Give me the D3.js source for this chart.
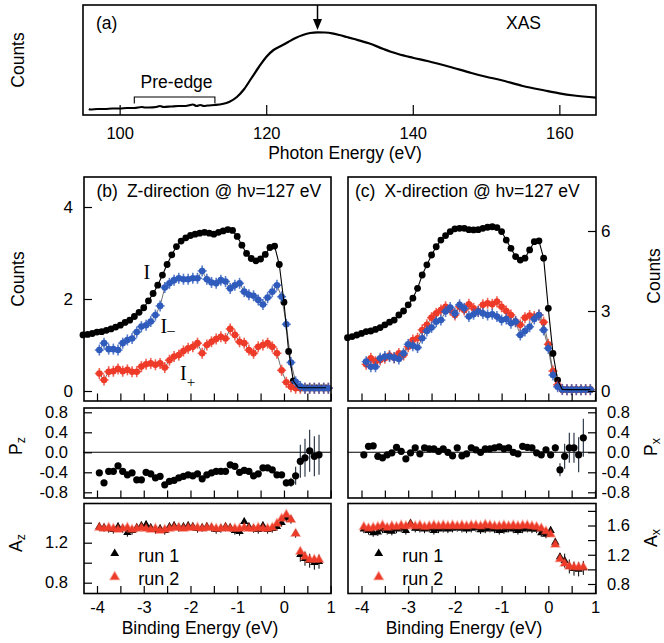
<!DOCTYPE html>
<html><head><meta charset="utf-8">
<script src="https://cdn.jsdelivr.net/npm/d3@7"></script>
<style>body{margin:0;background:#fff}svg{display:block}</style>
</head><body><svg id="c" width="664" height="643"></svg>
<script>
// ---------------- DATA ----------------
// (a) XAS spectrum
const xasEnergy = [95.8,96,97,98,99,100,101,102,103,103.5,104,105,105.5,106,107,108,109,110,110.5,111,111.5,112,113,114,115,116,117,118,119,120,121,122,123,124,125,126,127,128,129,130,131,132,134,136,137,138,140,142,145,148,150,152,155,158,160,162,165];
const xasCounts = [0.06,0.055,0.06,0.06,0.065,0.065,0.07,0.07,0.08,0.075,0.075,0.08,0.09,0.08,0.085,0.09,0.09,0.105,0.09,0.10,0.09,0.095,0.10,0.11,0.133,0.18,0.26,0.37,0.48,0.58,0.65,0.69,0.73,0.77,0.80,0.82,0.827,0.825,0.817,0.80,0.78,0.76,0.717,0.66,0.633,0.61,0.573,0.54,0.483,0.42,0.383,0.35,0.29,0.245,0.217,0.195,0.173];
const xasTicks = [100,120,140,160];
const xasTickLabels = ["100","120","140","160"];
const peakEnergy = 127;
const preEdge = [102,113];

// binding-energy grids
const E_I = [-4.3,-4.2,-4.1,-4.0,-3.9,-3.8,-3.7,-3.6,-3.5,-3.4,-3.3,-3.2,-3.1,-3.0,-2.9,-2.8,-2.7,-2.6,-2.5,-2.4,-2.3,-2.2,-2.1,-2.0,-1.9,-1.8,-1.7,-1.6,-1.5,-1.4,-1.3,-1.2,-1.1,-1.0,-0.9,-0.8,-0.7,-0.6,-0.5,-0.4,-0.3,-0.2,-0.1,0.0,0.1,0.2,0.3,0.4,0.5,0.6,0.7,0.8,0.9];
const E_pm_b = [-3.95,-3.85,-3.75,-3.65,-3.55,-3.45,-3.35,-3.25,-3.15,-3.05,-2.95,-2.85,-2.75,-2.65,-2.55,-2.45,-2.35,-2.25,-2.15,-2.05,-1.95,-1.85,-1.75,-1.65,-1.55,-1.45,-1.35,-1.25,-1.15,-1.05,-0.95,-0.85,-0.75,-0.65,-0.55,-0.45,-0.35,-0.25,-0.15,-0.05,0.05,0.15,0.25,0.35,0.45,0.55,0.65,0.75,0.85,0.95];
const E_pm_c = [-3.9,-3.8,-3.7,-3.6,-3.5,-3.4,-3.3,-3.2,-3.1,-3.0,-2.9,-2.8,-2.7,-2.6,-2.5,-2.4,-2.3,-2.2,-2.1,-2.0,-1.9,-1.8,-1.7,-1.6,-1.5,-1.4,-1.3,-1.2,-1.1,-1.0,-0.9,-0.8,-0.7,-0.6,-0.5,-0.4,-0.3,-0.2,-0.1,0.0,0.1,0.2,0.3,0.4,0.5,0.6,0.7,0.8,0.9];
const E_PA = [-3.95,-3.85,-3.75,-3.65,-3.55,-3.45,-3.35,-3.25,-3.15,-3.05,-2.95,-2.85,-2.75,-2.65,-2.55,-2.45,-2.35,-2.25,-2.15,-2.05,-1.95,-1.85,-1.75,-1.65,-1.55,-1.45,-1.35,-1.25,-1.15,-1.05,-0.95,-0.85,-0.75,-0.65,-0.55,-0.45,-0.35,-0.25,-0.15,-0.05,0.05,0.15,0.25,0.35,0.45,0.55,0.65,0.75];

// (b) Z-direction counts
const Ib = [1.22,1.23,1.25,1.28,1.29,1.32,1.35,1.39,1.43,1.49,1.54,1.62,1.71,1.81,1.96,2.12,2.30,2.52,2.75,2.96,3.14,3.26,3.33,3.38,3.41,3.43,3.45,3.43,3.41,3.45,3.48,3.51,3.49,3.36,3.17,2.99,2.88,2.83,2.87,2.97,3.12,3.15,2.75,1.93,0.86,0.22,0.08,0.07,0.07,0.07,0.07,0.07,0.07];
const Iminus_b = [0.89,1.04,0.91,0.91,0.89,1.04,1.11,1.14,1.28,1.40,1.43,1.51,1.65,1.85,2.25,2.34,2.41,2.45,2.43,2.43,2.45,2.45,2.61,2.43,2.36,2.34,2.41,2.38,2.23,2.30,2.34,2.16,2.09,2.07,1.98,1.88,2.03,2.16,2.30,2.05,1.45,0.62,0.20,0.10,0.06,0.06,0.06,0.06,0.06,0.06];
const Iplus_b = [0.38,0.24,0.42,0.43,0.48,0.43,0.46,0.42,0.42,0.53,0.58,0.60,0.57,0.60,0.51,0.67,0.75,0.78,0.87,0.93,0.96,1.04,0.82,1.00,1.07,1.13,1.18,1.14,1.35,1.22,1.07,1.04,0.89,0.82,0.96,1.00,1.04,0.96,0.82,0.45,0.19,0.09,0.06,0.06,0.06,0.06,0.06,0.06,0.06,0.06];
// (c) X-direction counts
const Ic = [2.0,2.04,2.1,2.16,2.23,2.25,2.31,2.38,2.48,2.58,2.66,2.85,3.0,3.23,3.48,3.85,4.35,4.73,5.1,5.41,5.66,5.83,5.98,6.08,6.1,6.1,6.05,6.04,6.05,6.1,6.14,6.16,6.13,5.98,5.66,5.35,5.04,4.91,4.98,5.29,5.6,5.63,4.98,3.1,1.41,0.41,0.06,0.05,0.05,0.05,0.05,0.05,0.05];
const Iplus_c = [1.0,1.23,1.1,1.16,1.23,1.33,1.25,1.41,1.35,1.66,1.91,1.98,2.29,2.48,2.75,2.91,3.04,3.16,3.04,2.85,3.16,3.04,3.25,3.1,3.0,3.23,3.29,3.25,3.35,3.16,3.0,2.85,2.6,2.48,2.75,2.83,2.79,2.85,2.58,1.75,0.75,0.23,0.06,0.05,0.05,0.05,0.05,0.05,0.05];
const Iminus_c = [1.1,0.91,0.91,1.23,1.29,1.29,1.25,1.2,1.41,1.75,1.7,1.63,1.98,2.25,2.38,2.6,2.66,2.98,3.13,2.91,3.23,3.1,2.79,2.88,2.98,2.91,2.85,2.88,2.79,2.66,2.7,2.54,2.6,2.1,2.25,2.41,2.7,2.85,2.29,1.6,0.6,0.16,0.06,0.05,0.05,0.05,0.05,0.05,0.05];

// polarization
const Pz = [-0.41,-0.61,-0.38,-0.38,-0.27,-0.38,-0.45,-0.41,-0.55,-0.55,-0.40,-0.43,-0.51,-0.48,-0.65,-0.58,-0.56,-0.51,-0.48,-0.45,-0.47,-0.43,-0.53,-0.45,-0.41,-0.38,-0.38,-0.38,-0.25,-0.28,-0.40,-0.36,-0.38,-0.47,-0.43,-0.31,-0.31,-0.35,-0.45,-0.45,-0.61,-0.60,-0.47,-0.18,-0.11,0.03,-0.08,-0.05];
const Pz_err = [0.05,0.06,0.05,0.05,0.05,0.05,0.05,0.05,0.05,0.05,0.05,0.05,0.05,0.05,0.05,0.05,0.05,0.05,0.05,0.05,0.05,0.05,0.05,0.05,0.05,0.05,0.05,0.05,0.05,0.05,0.05,0.05,0.05,0.05,0.05,0.05,0.05,0.05,0.05,0.05,0.07,0.09,0.18,0.33,0.38,0.42,0.40,0.40];
const Px = [-0.05,0.12,0.13,-0.08,-0.11,-0.05,-0.01,0.10,0.02,-0.13,-0.01,0.09,-0.03,0.09,0.07,0.07,0.02,0.07,0.00,-0.07,0.09,-0.07,-0.03,0.09,0.05,0.00,0.07,0.07,0.09,0.11,0.07,0.09,0.00,-0.03,0.12,0.10,0.09,-0.01,-0.05,0.05,-0.05,0.09,-0.35,-0.08,0.09,0.09,-0.05,0.29];
const Px_err = [0.05,0.05,0.05,0.05,0.05,0.05,0.05,0.05,0.05,0.05,0.05,0.05,0.05,0.05,0.05,0.05,0.05,0.05,0.05,0.05,0.05,0.05,0.05,0.05,0.05,0.05,0.05,0.05,0.05,0.05,0.05,0.05,0.05,0.05,0.05,0.05,0.05,0.05,0.05,0.05,0.05,0.07,0.13,0.25,0.30,0.30,0.35,0.38];

// asymmetry
const Az_run1 = [1.36,1.35,1.34,1.33,1.36,1.34,1.30,1.32,1.35,1.37,1.38,1.35,1.33,1.34,1.32,1.36,1.37,1.35,1.36,1.37,1.36,1.34,1.35,1.36,1.35,1.33,1.34,1.36,1.35,1.32,1.31,1.41,1.36,1.34,1.33,1.37,1.33,1.34,1.36,1.40,1.45,1.43,1.29,1.08,1.04,1.02,1.00,1.01];
const Az_run2 = [1.35,1.34,1.35,1.34,1.33,1.34,1.35,1.33,1.34,1.35,1.34,1.33,1.34,1.32,1.33,1.34,1.35,1.35,1.34,1.35,1.35,1.35,1.34,1.35,1.35,1.34,1.34,1.35,1.34,1.34,1.34,1.35,1.34,1.34,1.35,1.34,1.34,1.35,1.39,1.44,1.48,1.43,1.29,1.11,1.06,1.03,1.03,1.03];
const Ax_run1 = [1.55,1.53,1.50,1.51,1.55,1.53,1.52,1.55,1.56,1.53,1.63,1.56,1.56,1.55,1.56,1.53,1.55,1.56,1.55,1.56,1.57,1.56,1.55,1.56,1.57,1.54,1.55,1.56,1.55,1.53,1.54,1.56,1.55,1.53,1.55,1.56,1.55,1.55,1.50,1.48,1.53,1.37,1.17,1.12,1.04,1.01,1.00,1.02];
const Ax_run2 = [1.58,1.56,1.57,1.58,1.60,1.57,1.59,1.58,1.60,1.59,1.61,1.59,1.60,1.58,1.59,1.60,1.59,1.60,1.59,1.60,1.59,1.60,1.59,1.60,1.60,1.59,1.61,1.60,1.59,1.59,1.60,1.59,1.60,1.59,1.60,1.60,1.59,1.58,1.56,1.52,1.48,1.34,1.14,1.08,1.04,1.03,1.03,1.03];

// ticks
const beTicks = [-4,-3.5,-3,-2.5,-2,-1.5,-1,-0.5,0,0.5,1];
const beTickLabels = {"-4":"-4","-3":"-3","-2":"-2","-1":"-1","0":"0","1":"1"};
const countsTicksB = [0,2,4], countsTicksC = [0,3,6];
const pTicks = [-0.8,-0.4,0,0.4,0.8];
const pTickLabels = ["-0.8","-0.4","0.0","0.4","0.8"];
const aTicksB = [0.8,1.0,1.2,1.4];
const aTickLabelsB = ["0.8","","1.2",""];
const aTicksC = [0.8,1.0,1.2,1.4,1.6,1.8];
const aTickLabelsC = ["0.8","","1.2","","1.6",""];
const legendLabels = ["run 1","run 2"];

// ---------------- DRAW ----------------
const FONT = '"Liberation Sans", Arial, Helvetica, sans-serif';
const SERIF = '"Liberation Serif", "Times New Roman", serif';
const BLUE = "#2f5cbc", RED = "#ee3a28";
const svg = d3.select("#c");

function styleAxis(g, fs){
  g.select(".domain").remove();
  g.selectAll(".tick line").attr("stroke","#000").attr("stroke-width",1.2);
  g.selectAll("text").attr("font-size",fs).attr("font-family",FONT).attr("fill","#000");
}
function box(x0,x1,y0,y1){
  svg.append("rect").attr("x",x0).attr("y",y0).attr("width",x1-x0).attr("height",y1-y0)
    .attr("fill","none").attr("stroke","#000").attr("stroke-width",1.6);
}
function text(x,y,s,fs,anchor,rot){
  const t = svg.append("text").attr("font-family",FONT).attr("font-size",fs).attr("fill","#000")
    .attr("text-anchor",anchor||"start");
  if(rot){ t.attr("transform",`translate(${x},${y}) rotate(-90)`); } else { t.attr("x",x).attr("y",y); }
  t.text(s); return t;
}
function subLabel(x,y,main,sub){
  const t = svg.append("text").attr("font-family",FONT).attr("font-size",17.5).attr("fill","#000")
    .attr("text-anchor","middle").attr("transform",`translate(${x},${y}) rotate(-90)`);
  t.append("tspan").text(main);
  t.append("tspan").attr("font-size",12.5).attr("dy",3).text(sub);
}

// ===== Panel (a) =====
const xA = d3.scaleLinear().domain([95,165]).range([83,596]);
const yA = d3.scaleLinear().domain([0,1.1]).range([115,5]);
svg.append("path").datum(xasEnergy.map((e,i)=>[e,xasCounts[i]]))
  .attr("d", d3.line().x(d=>xA(d[0])).y(d=>yA(d[1])).curve(d3.curveMonotoneX))
  .attr("fill","none").attr("stroke","#000").attr("stroke-width",2.2);
box(83,596,5,115);
const gA = svg.append("g").attr("transform","translate(0,115)")
  .call(d3.axisBottom(xA).tickValues(xasTicks).tickSize(-10).tickPadding(11.8)
    .tickFormat((d,i)=>xasTickLabels[i]));
styleAxis(gA,16.5);
// arrow
const ax = xA(peakEnergy);
svg.append("line").attr("x1",ax).attr("x2",ax).attr("y1",5).attr("y2",22).attr("stroke","#000").attr("stroke-width",1.5);
svg.append("path").attr("d",`M${ax-4.5},19 L${ax+4.5},19 L${ax},30 Z`).attr("fill","#000");
// pre-edge bracket
svg.append("path").attr("d",`M${xA(preEdge[0])},103.5 V97 H${xA(preEdge[1])} V103.5`)
  .attr("fill","none").attr("stroke","#000").attr("stroke-width",1.1);
text((xA(preEdge[0])+xA(preEdge[1]))/2+2,88,"Pre-edge",17.5,"middle");
text(96,29,"(a)",17.5);
text(506,29,"XAS",17.5);
text(24,60,"Counts",17.5,"middle",true);
text(345,158.8,"Photon Energy (eV)",17.5,"middle");

// ===== shared scales for lower panels =====
const xB = d3.scaleLinear().domain([-4,1]).range([97,330.7]);
const xC = d3.scaleLinear().domain([-4,1]).range([361.5,595]);
const yTopB = d3.scaleLinear().domain([0,4]).range([391,207]);
const yTopC = d3.scaleLinear().domain([0,6]).range([391,231]);
const yP = d3.scaleLinear().domain([-0.8,0.8]).range([492.3,412.3]);
const yAB = d3.scaleLinear().domain([0.8,1.4]).range([582.7,522.7]);
const yAC = d3.scaleLinear().domain([0.8,1.6]).range([584,525.5]);

const BX = [84,331], CX = [348,596];
const TOP = [177,401], PY = [408,498], AY = [503.5,593.5];

function countsPanel(x, y, E_black, black, E_pm, minus, plus){
  const ln = d3.line().x(d=>x(d[0])).y(d=>y(d[1]));
  [plus, minus].forEach(arr=>{
    svg.append("path").datum(E_pm.map((e,i)=>[e,arr[i]])).attr("d",ln)
      .attr("fill","none").attr("stroke","#333").attr("stroke-width",0.7);
  });
  svg.append("g").selectAll("circle").data(E_black.map((e,i)=>[e,black[i]])).join("circle")
    .attr("cx",d=>x(d[0])).attr("cy",d=>y(d[1])).attr("r",3.4).attr("fill","#000");
  [[plus,RED],[minus,BLUE]].forEach(([arr,col])=>{
    const g = svg.append("g").selectAll("g").data(E_pm.map((e,i)=>[e,arr[i]])).join("g")
      .attr("transform",d=>`translate(${x(d[0])},${y(d[1])})`);
    g.append("line").attr("y1",-5.5).attr("y2",5.5).attr("stroke",col).attr("stroke-width",1.6).attr("opacity",0.8);
    g.append("line").attr("x1",-4.5).attr("x2",4.5).attr("stroke",col).attr("stroke-width",1.6).attr("opacity",0.8);
    g.append("circle").attr("r",3.3).attr("fill",col);
  });
  svg.append("path").datum(E_black.map((e,i)=>[e,black[i]])).attr("d",ln)
    .attr("fill","none").attr("stroke","#000").attr("stroke-width",1.1);
}

function pPanel(x, vals, errs){
  svg.append("line").attr("x1",x.range()[0]-14).attr("x2",x.range()[1]).attr("y1",yP(0)).attr("y2",yP(0))
    .attr("stroke","#000").attr("stroke-width",1.1);
  const d = E_PA.map((e,i)=>[e,vals[i],errs[i]]);
  svg.append("g").selectAll("line").data(d).join("line")
    .attr("x1",d=>x(d[0])).attr("x2",d=>x(d[0])).attr("y1",d=>yP(d[1]-d[2])).attr("y2",d=>yP(d[1]+d[2]))
    .attr("stroke","#1d2a3a").attr("stroke-width",1.1);
  svg.append("g").selectAll("circle").data(d).join("circle")
    .attr("cx",d=>x(d[0])).attr("cy",d=>yP(d[1])).attr("r",3.6).attr("fill","#000");
}

const tri = d3.symbol().type(d3.symbolTriangle);
function aPanel(x, y, r1, r2){
  const d1 = E_PA.map((e,i)=>[e,r1[i]]), d2 = E_PA.map((e,i)=>[e,r2[i]]);
  svg.append("g").selectAll("line").data(d1).join("line")
    .attr("x1",d=>x(d[0])).attr("x2",d=>x(d[0]))
    .attr("y1",(d,i)=>y(d[1])-(i>42?7:4)).attr("y2",(d,i)=>y(d[1])+(i>42?7:4))
    .attr("stroke","#000").attr("stroke-width",1);
  svg.append("g").selectAll("path").data(d1).join("path")
    .attr("transform",d=>`translate(${x(d[0])},${y(d[1])})`).attr("d",tri.size(30)()).attr("fill","#000");
  svg.append("g").selectAll("path").data(d2).join("path")
    .attr("transform",d=>`translate(${x(d[0])},${y(d[1])})`).attr("d",tri.size(30)())
    .attr("fill",RED).attr("stroke","rgba(240,70,50,0.45)").attr("stroke-width",1.6);
}
function legend(x0){
  svg.append("path").attr("transform",`translate(${x0},553.5)`).attr("d",tri.size(34)()).attr("fill","#000");
  svg.append("path").attr("transform",`translate(${x0},577)`).attr("d",tri.size(34)())
    .attr("fill",RED).attr("stroke","rgba(240,70,50,0.45)").attr("stroke-width",1.6);
  text(x0+23.5,561.5,legendLabels[0],18);
  text(x0+23.5,585,legendLabels[1],18);
}

function xAxis(x, yb, labels){
  const g = svg.append("g").attr("transform",`translate(0,${yb})`)
    .call(d3.axisBottom(x).tickValues(beTicks).tickSize(-7.5).tickPadding(8)
      .tickFormat(d=> labels ? (beTickLabels[String(d)]||"") : ""));
  styleAxis(g,16.5);
}

// ===== Panel (b) =====
countsPanel(xB, yTopB, E_I, Ib, E_pm_b, Iminus_b, Iplus_b);
box(BX[0],BX[1],TOP[0],TOP[1]);
xAxis(xB, TOP[1], false);
styleAxis(svg.append("g").attr("transform",`translate(${BX[0]},0)`)
  .call(d3.axisLeft(yTopB).tickValues(countsTicksB).tickSize(-8).tickPadding(11).tickFormat(d3.format("d"))),17);

pPanel(xB, Pz, Pz_err);
box(BX[0],BX[1],PY[0],PY[1]);
xAxis(xB, PY[1], false);
styleAxis(svg.append("g").attr("transform",`translate(${BX[0]},0)`)
  .call(d3.axisLeft(yP).tickValues(pTicks).tickSize(-8).tickPadding(16).tickFormat((d,i)=>pTickLabels[i])),16.5);

aPanel(xB, yAB, Az_run1, Az_run2);
legend(114.7);
box(BX[0],BX[1],AY[0],AY[1]);
xAxis(xB, AY[1], true);
styleAxis(svg.append("g").attr("transform",`translate(${BX[0]},0)`)
  .call(d3.axisLeft(yAB).tickValues(aTicksB).tickSize(-8).tickPadding(16).tickFormat((d,i)=>aTickLabelsB[i])),16.5);

// ===== Panel (c) =====
countsPanel(xC, yTopC, E_I, Ic, E_pm_c, Iminus_c, Iplus_c);
box(CX[0],CX[1],TOP[0],TOP[1]);
xAxis(xC, TOP[1], false);
styleAxis(svg.append("g").attr("transform",`translate(${CX[1]},0)`)
  .call(d3.axisRight(yTopC).tickValues(countsTicksC).tickSize(-8).tickPadding(5).tickFormat(d3.format("d"))),17);

pPanel(xC, Px, Px_err);
box(CX[0],CX[1],PY[0],PY[1]);
xAxis(xC, PY[1], false);
const gPc = svg.append("g").attr("transform",`translate(${CX[1]},0)`)
  .call(d3.axisRight(yP).tickValues(pTicks).tickSize(-8).tickPadding(5).tickFormat((d,i)=>pTickLabels[i]));
styleAxis(gPc,16.5); gPc.selectAll("text").attr("text-anchor","end").attr("x",34);

aPanel(xC, yAC, Ax_run1, Ax_run2);
legend(378.7);
box(CX[0],CX[1],AY[0],AY[1]);
xAxis(xC, AY[1], true);
const gAc = svg.append("g").attr("transform",`translate(${CX[1]},0)`)
  .call(d3.axisRight(yAC).tickValues(aTicksC).tickSize(-8).tickPadding(5).tickFormat((d,i)=>aTickLabelsC[i]));
styleAxis(gAc,16.5); gAc.selectAll("text").attr("text-anchor","end").attr("x",34);

// ===== titles and labels =====
function title(x, tag, rest){
  const t = svg.append("text").attr("x",x).attr("y",196.7).attr("font-family",FONT).attr("font-size",17.5).attr("fill","#000");
  t.append("tspan").text(tag);
  t.append("tspan").attr("dx",9).text(rest);
}
title(96.5,"(b)","Z-direction @ h\u03BD=127 eV");
title(355,"(c)","X-direction @ h\u03BD=127 eV");

text(24,279,"Counts",17.5,"middle",true);
subLabel(22,446,"P","z");
subLabel(22,543,"A","z");
text(660,276,"Counts",17.5,"middle",true);
subLabel(657,447,"P","x");
subLabel(657,538,"A","x");
text(200,633.5,"Binding Energy (eV)",17.5,"middle");
text(464,633.5,"Binding Energy (eV)",17.5,"middle");

// I labels
function ilab(x,y,sub,dy){
  const t = svg.append("text").attr("x",x).attr("y",y).attr("font-family",SERIF).attr("font-size",20).attr("fill","#000");
  t.append("tspan").text("I");
  if(sub) t.append("tspan").attr("font-size",15).attr("dy",dy).text(sub);
}
ilab(143.5,279,null,0);
ilab(160.5,333,"\u2013",2);
ilab(180,380,"+",7);
</script></body></html>
